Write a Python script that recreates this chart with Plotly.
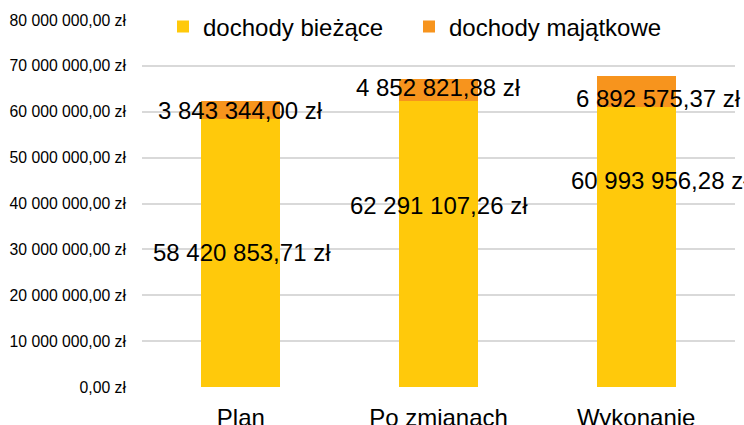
import plotly.graph_objects as go

categories = ["Plan", "Po zmianach", "Wykonanie"]
dochody_biezace = [58420853.71, 62291107.26, 60993956.28]
dochody_majatkowe = [3843344.00, 4852821.88, 6892575.37]
series_names = ["dochody bieżące", "dochody majątkowe"]

colors = ["#FFC90B", "#F7941D"]
font_family = "Liberation Sans, Arial, sans-serif"

# label offsets (px) mimicking manual label placement in the original
shift_biezace = [(1, 1), (0, 39), (24, 67)]
shift_majatkowe = [(0, 0), (0, 3), (22, -7)]

W, H = 744, 425


def fmt(v):
    s = f"{v:,.2f}".replace(",", " ").replace(".", ",")
    return s + " zł"


fig = go.Figure()
fig.add_trace(go.Bar(x=categories, y=dochody_biezace, name=series_names[0],
                     legendwidth=201,
                     marker=dict(color=colors[0], line=dict(width=0))))
fig.add_trace(go.Bar(x=categories, y=dochody_majatkowe, name=series_names[1],
                     legendwidth=220,
                     marker=dict(color=colors[1], line=dict(width=0))))

annotations = []
for i, c in enumerate(categories):
    b = dochody_biezace[i]
    m = dochody_majatkowe[i]
    annotations.append(dict(x=c, y=b / 2, text=fmt(b), showarrow=False,
                            xanchor="center", yanchor="middle",
                            xshift=shift_biezace[i][0], yshift=shift_biezace[i][1],
                            font=dict(size=24, color="#000000", family=font_family)))
    annotations.append(dict(x=c, y=b + m / 2, text=fmt(m), showarrow=False,
                            xanchor="center", yanchor="middle",
                            xshift=shift_majatkowe[i][0], yshift=shift_majatkowe[i][1],
                            font=dict(size=24, color="#000000", family=font_family)))

fig.update_layout(
    width=W, height=H,
    barmode="stack", bargap=0.6,
    separators=", ",
    paper_bgcolor="white", plot_bgcolor="white",
    margin=dict(l=142, r=9, t=20, b=38, autoexpand=False),
    font=dict(family=font_family, color="#000000"),
    legend=dict(orientation="h", xref="container", yref="container",
                x=163 / W, xanchor="left", y=1 - 27 / H, yanchor="middle",
                bgcolor="rgba(0,0,0,0)", font=dict(size=24, color="#000000"),
                itemwidth=30, traceorder="normal"),
    annotations=annotations,
    xaxis=dict(range=[-0.5, len(categories) - 0.5], autorange=False,
               showgrid=False, showline=False, zeroline=False, automargin=False,
               ticklabelstandoff=14,
               tickfont=dict(size=24, color="#000000")),
    yaxis=dict(range=[0, 80000000], autorange=False, dtick=10000000, tickformat=",.2f",
               ticksuffix=" zł", showgrid=True, gridcolor="#D9D9D9", gridwidth=1.5,
               zeroline=False, showline=False, ticklabelstandoff=15, automargin=False,
               tickfont=dict(size=15.75, color="#000000")),
)

fig.write_html(
    "out.html",
    config={"responsive": False, "displayModeBar": False},
    post_script="document.body.style.margin='0px';document.body.style.overflow='hidden';",
)
